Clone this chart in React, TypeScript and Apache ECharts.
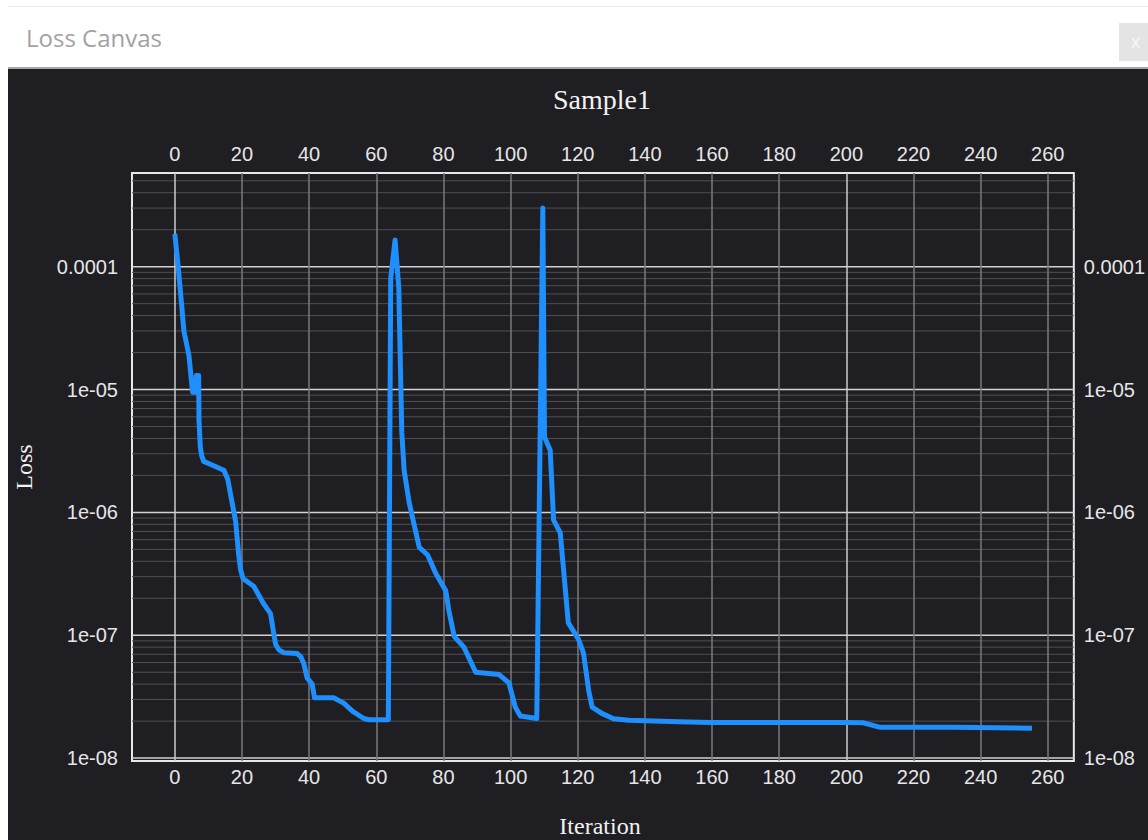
import React, { useEffect, useRef } from "react";
import * as echarts from "echarts";

// ---- data ----
const iterations = [
  0, 1, 2, 2.7, 4.2, 5.3, 6.2, 6.4, 7.1, 7.2, 7.6, 8.0, 8.6, 11.6, 14.6, 15.8, 16.6, 18.1, 19.0, 19.6, 20.3,
  23.5, 26.5, 28.5, 29.3, 30.0, 31.0, 32.5, 36.4, 37.5, 38.4, 39.4, 40.9, 41.6, 47.3, 50.3, 53.0, 56.3, 57.8, 63.6,
  64.3, 65.6, 66.7, 67.6, 68.3, 69.8, 72.8, 75.3, 77.7, 80.7, 81.6, 83.2, 86.1, 89.6, 96.5,
  99.5, 101.4, 102.9, 107.8, 109.6, 110.1, 111.8, 112.8, 114.8, 117.2, 120.2, 121.7,
  123.3, 124.3, 127.3, 130.7, 135.2, 150, 160, 200, 205, 210.1, 231.5, 255.3,
];
const loss = [
  1.85e-4, 1.0e-4, 5.0e-5, 3.0e-5, 1.9e-5, 9.5e-6, 9.5e-6, 1.3e-5, 1.3e-5, 5.6e-6, 3.4e-6, 2.9e-6,
  2.6e-6, 2.4e-6, 2.2e-6, 1.85e-6, 1.4e-6, 8.5e-7, 4.6e-7, 3.4e-7, 2.9e-7, 2.5e-7, 1.8e-7, 1.5e-7, 1.1e-7, 8.5e-8,
  7.6e-8, 7.2e-8, 7.1e-8, 6.7e-8, 5.9e-8, 4.5e-8, 4.0e-8, 3.1e-8, 3.1e-8, 2.8e-8, 2.4e-8, 2.1e-8, 2.05e-8, 2.05e-8,
  8.0e-5, 1.65e-4, 6.8e-5, 4.5e-6, 2.2e-6, 1.2e-6, 5.2e-7, 4.5e-7, 3.2e-7, 2.3e-7, 1.6e-7,
  9.8e-8, 8.0e-8, 5.0e-8, 4.8e-8, 4.1e-8, 2.6e-8, 2.2e-8, 2.1e-8, 3.0e-4, 4.1e-6,
  3.2e-6, 8.7e-7, 6.8e-7, 1.26e-7, 9.3e-8, 7.2e-8, 3.5e-8, 2.6e-8, 2.3e-8, 2.09e-8,
  2.03e-8, 1.98e-8, 1.95e-8, 1.95e-8, 1.94e-8, 1.78e-8, 1.78e-8, 1.75e-8,
];
const xTickValues = [0, 20, 40, 60, 80, 100, 120, 140, 160, 180, 200, 220, 240, 260];
const xBrightTicks = [0, 200];
const yDecades = [-8, -7, -6, -5, -4];
const yMinorMultipliers = [2, 3, 4, 5, 6, 7, 8, 9];

const X_MIN = -12.75;
const X_MAX = 267.75;
const Y_MIN = 9.47e-9;
const Y_MAX = 5.79e-4;

const LABEL_FONT = '"Liberation Sans", Arial, sans-serif';
const SERIF = '"Liberation Serif", "Times New Roman", serif';

function yLabel(v: number): string {
  const l = Math.log10(v);
  const e = Math.round(l);
  if (Math.abs(l - e) > 0.01) return "";
  if (e >= -4) return "0.0001";
  const n = -e;
  return "1e-" + (n < 10 ? "0" + n : String(n));
}
function xLabel(v: number): string {
  const r = Math.round(v);
  if (Math.abs(v - r) > 1e-6 || r % 20 !== 0) return "";
  return String(r);
}

function hLine(v: number, color: string, width: number, z: number) {
  return {
    type: "line",
    xAxisIndex: 0,
    yAxisIndex: 0,
    silent: true,
    z,
    symbol: "none",
    showSymbol: false,
    data: [
      [X_MIN, v],
      [X_MAX, v],
    ],
    lineStyle: { color, width, type: "solid" },
    emphasis: { disabled: true },
  };
}

export default function App() {
  const ref = useRef<HTMLDivElement>(null);
  useEffect(() => {
    const chart = echarts.init(ref.current!, null, { renderer: "svg" });
    const lineData = iterations.map((x, i) => [x, loss[i]]);

    const vLines: any[] = xTickValues.map((v) => {
      const bright = xBrightTicks.indexOf(v) >= 0;
      return {
        xAxis: v,
        lineStyle: { color: bright ? "#cdcdcd" : "#7a7a7e", width: 1.5, type: "solid" },
      };
    });

    const gridSeries: any[] = [];
    yDecades.forEach((d) => {
      yMinorMultipliers.forEach((m) => {
        const v = m * Math.pow(10, d);
        if (v < Y_MAX) gridSeries.push(hLine(v, "#4f4f55", 1, 1));
      });
    });
    yDecades.forEach((d) => {
      gridSeries.push(hLine(Math.pow(10, d), "#d2d2d2", 1.5, 3));
    });

    const axisLabelBase = {
      color: "#e6e6e6",
      fontSize: 20,
      fontFamily: LABEL_FONT,
    };

    const xAxisBase = {
      type: "value",
      min: X_MIN,
      max: X_MAX,
      splitNumber: 14,
      minInterval: 20,
      maxInterval: 20,
      axisLine: { show: false },
      axisTick: { show: false },
      splitLine: { show: false },
    };
    const yAxisBase = {
      type: "log",
      logBase: 10,
      min: Y_MIN,
      max: Y_MAX,
      axisLine: { show: false },
      axisTick: { show: false },
      splitLine: { show: false },
      minorSplitLine: { show: false },
    };

    chart.setOption({
      animation: false,
      backgroundColor: "#1f1e23",
      grid: {
        left: 124,
        top: 104,
        width: 944,
        height: 588,
        show: true,
        borderColor: "#e8e8e8",
        borderWidth: 2,
        backgroundColor: "transparent",
      },
      xAxis: [
        {
          ...xAxisBase,
          position: "bottom",
          axisLabel: { ...axisLabelBase, margin: 6, formatter: xLabel },
        },
        {
          ...xAxisBase,
          position: "top",
          axisLabel: { ...axisLabelBase, margin: 9, formatter: xLabel },
        },
      ],
      yAxis: [
        {
          ...yAxisBase,
          position: "left",
          axisLabel: { ...axisLabelBase, margin: 14, formatter: yLabel },
        },
        {
          ...yAxisBase,
          position: "right",
          axisLabel: { ...axisLabelBase, margin: 10, formatter: yLabel },
        },
      ],
      graphic: [
        {
          type: "text",
          x: 594,
          y: 30,
          style: {
            text: "Sample1",
            fill: "#f2f2f2",
            font: "28px " + SERIF,
            textAlign: "center",
            textVerticalAlign: "middle",
          },
        },
        {
          type: "text",
          x: 592,
          y: 757,
          style: {
            text: "Iteration",
            fill: "#f2f2f2",
            font: "24px " + SERIF,
            textAlign: "center",
            textVerticalAlign: "middle",
          },
        },
        {
          type: "text",
          x: 16,
          y: 398,
          rotation: Math.PI / 2,
          style: {
            text: "Loss",
            fill: "#f2f2f2",
            font: "24px " + SERIF,
            textAlign: "center",
            textVerticalAlign: "middle",
          },
        },
      ],
      series: [
        ...gridSeries,
        {
          type: "line",
          name: "vgrid",
          xAxisIndex: 0,
          yAxisIndex: 0,
          z: 2,
          silent: true,
          showSymbol: false,
          symbol: "none",
          data: [[0, 1e-8]],
          lineStyle: { opacity: 0, width: 0 },
          markLine: {
            silent: true,
            symbol: ["none", "none"],
            label: { show: false },
            lineStyle: { type: "solid" },
            emphasis: { disabled: true },
            data: vLines,
          },
        },
        {
          type: "line",
          name: "Loss",
          xAxisIndex: 0,
          yAxisIndex: 0,
          z: 5,
          showSymbol: false,
          symbol: "none",
          data: lineData,
          lineStyle: { color: "#1e8ffc", width: 5, join: "round" },
          itemStyle: { color: "#1e8ffc" },
        },
      ],
    });
    return () => chart.dispose();
  }, []);

  return (
    <div
      style={{
        position: "absolute",
        left: 0,
        top: 0,
        width: 1148,
        height: 840,
        background: "#ffffff",
        overflow: "hidden",
      }}
    >
      <div style={{ position: "absolute", left: 8, top: 6, width: 1140, height: 1, background: "#ededed" }} />
      <div
        style={{
          position: "absolute",
          left: 26,
          top: 21,
          fontSize: 24,
          lineHeight: "34px",
          color: "#a2a2a2",
          fontFamily: '"Open Sans", "Noto Sans", sans-serif',
          whiteSpace: "nowrap",
        }}
      >
        Loss Canvas
      </div>
      <div
        style={{
          position: "absolute",
          left: 1119,
          top: 23,
          width: 40,
          height: 38,
          background: "#e4e4e4",
          color: "#f7f7f7",
          fontFamily: '"Open Sans", sans-serif',
          fontSize: 18,
          lineHeight: "36px",
          paddingLeft: 12,
          boxSizing: "border-box",
        }}
      >
        x
      </div>
      <div style={{ position: "absolute", left: 8, top: 67, width: 1140, height: 2, background: "#a8a8a8" }} />
      <div ref={ref} style={{ position: "absolute", left: 8, top: 69, width: 1140, height: 771 }} />
    </div>
  );
}
